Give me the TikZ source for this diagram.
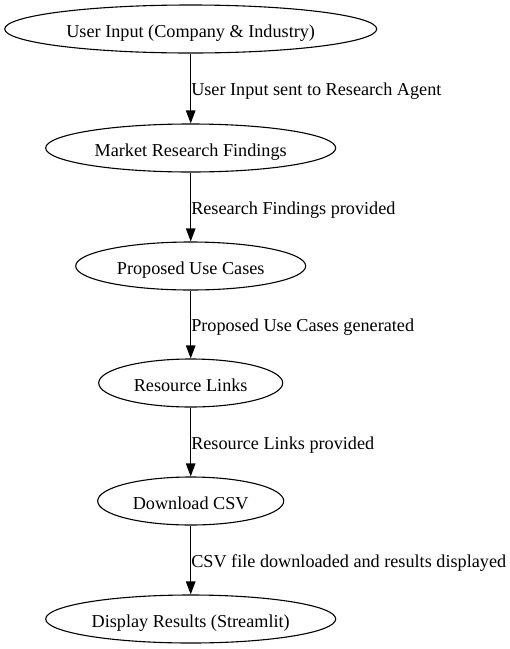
\documentclass[tikz,border=0pt]{standalone}
\usepackage{fontspec}
\setmainfont{Liberation Serif}
\usetikzlibrary{shapes.geometric,arrows.meta}
\begin{document}
\begin{tikzpicture}[x=1pt,y=-1pt,
  stage/.style={draw=black,line width=1.1pt,ellipse,inner sep=0pt,minimum height=48pt,text height=17.5pt,text depth=1.5pt,font=\fontsize{18.2}{22}\selectfont},
  flow/.style={draw=black,line width=1.1pt,-{Triangle[length=13pt,width=9.5pt]}},
  elabel/.style={anchor=west,inner sep=0pt,yshift=-3pt,font=\fontsize{18.2}{22}\selectfont}]
\useasboundingbox (0,0) rectangle (510,649);
\node[stage,minimum width=372pt] (n1) at (190.7,29) {User Input (Company \& Industry)};
\node[stage,minimum width=290pt] (n2) at (190.7,148) {Market Research Findings};
\node[stage,minimum width=230pt] (n3) at (190.7,266) {Proposed Use Cases};
\node[stage,minimum width=184pt] (n4) at (190.7,383) {Resource Links};
\node[stage,minimum width=186pt] (n5) at (190.7,501) {Download CSV};
\node[stage,minimum width=290pt] (n6) at (190.7,619) {Display Results (Streamlit)};
\draw[flow] (n1) -- node[elabel]{User Input sent to Research Agent} (n2);
\draw[flow] (n2) -- node[elabel]{Research Findings provided} (n3);
\draw[flow] (n3) -- node[elabel]{Proposed Use Cases generated} (n4);
\draw[flow] (n4) -- node[elabel]{Resource Links provided} (n5);
\draw[flow] (n5) -- node[elabel]{CSV file downloaded and results displayed} (n6);
\end{tikzpicture}
\end{document}
